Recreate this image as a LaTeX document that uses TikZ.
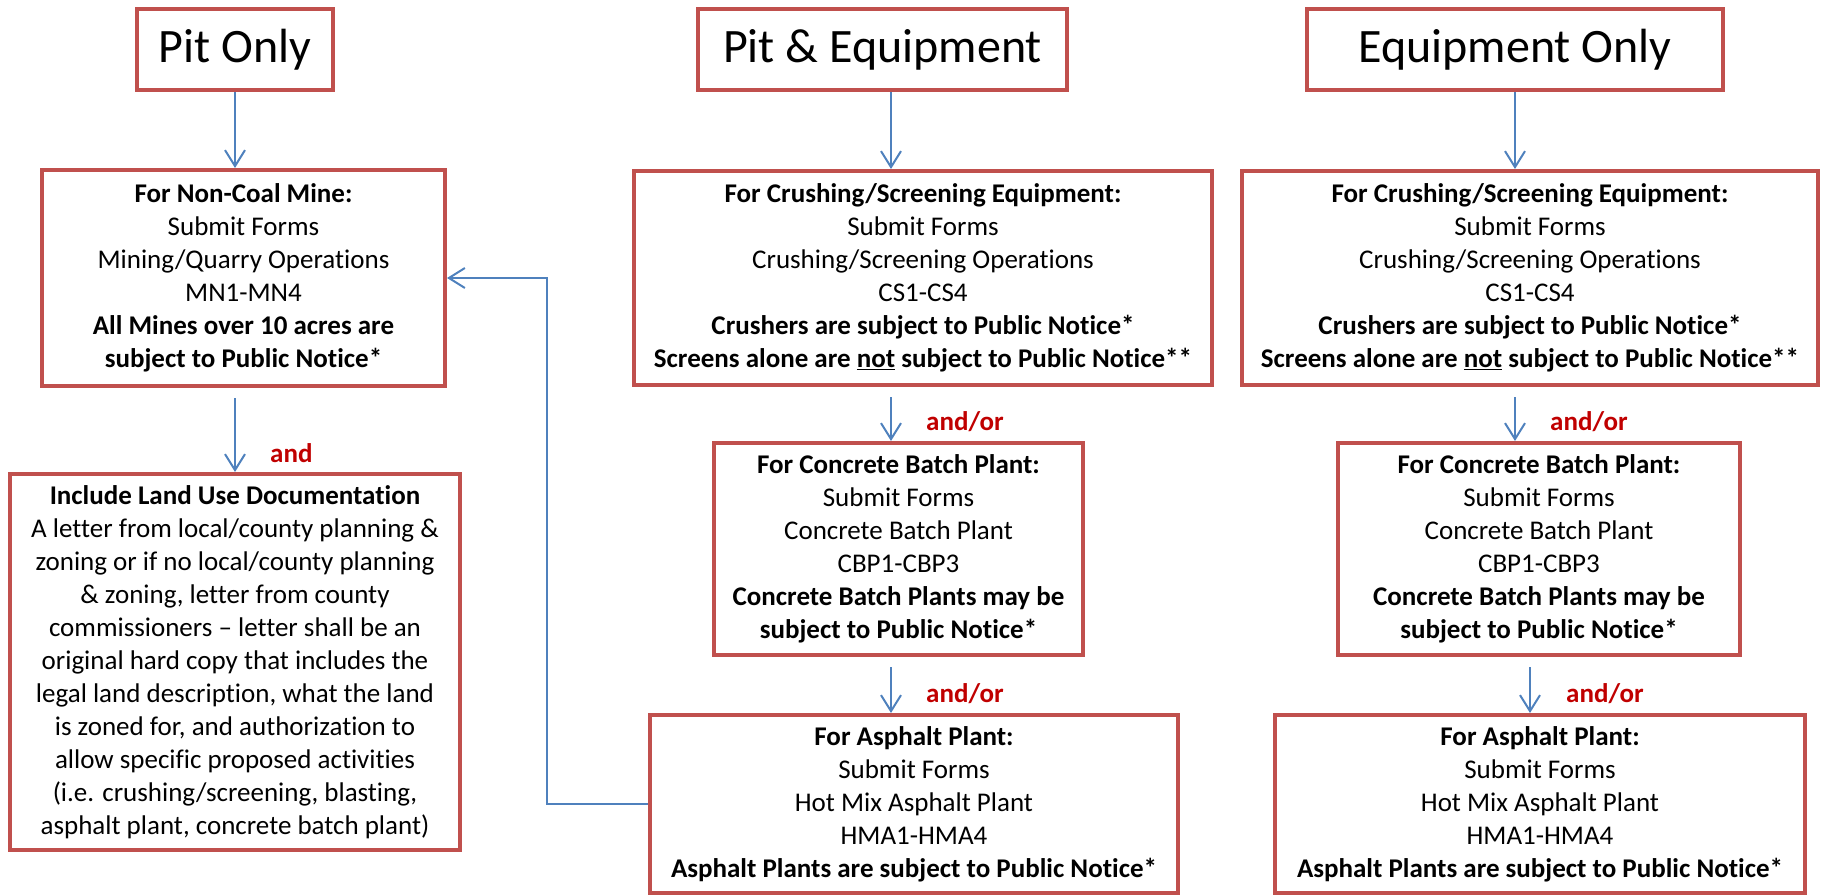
\documentclass[tikz,border=0pt]{standalone}
\usepackage{fontspec}
\setmainfont{Carlito}[Ligatures={NoCommon}]
\usepackage{tikz}
\usetikzlibrary{positioning, calc, arrows.meta}
\definecolor{boxred}{RGB}{192,80,77}
\definecolor{flowblue}{RGB}{79,129,189}
\definecolor{andred}{RGB}{192,0,0}

\begin{document}
\begin{tikzpicture}
    [x=1pt, y=-1pt,
    titlenode/.style={rectangle, draw=boxred, line width=4pt, inner sep=0pt, minimum height=81pt, font=\fontsize{48}{56}\selectfont},
    formnode/.style={rectangle, draw=boxred, line width=4pt, inner sep=0pt, align=center, font=\fontsize{27}{33}\selectfont},
    andnode/.style={anchor=base west, inner sep=0pt, text=andred, font=\fontsize{27}{33}\selectfont\bfseries},
    flow/.style={draw=flowblue, line width=2pt, -{Straight Barb[length=16pt, width=20pt]}},]

    \useasboundingbox (0,0) rectangle (1825,896);

    %Nodes
    \node[titlenode, minimum width=196pt](PitOnly) at (235,49.5){Pit Only};
    \node[titlenode, minimum width=369pt](PitEquip) at (882.5,49.5){Pit \& Equipment};
    \node[titlenode, minimum width=416pt](EquipOnly) at (1515,49.5){Equipment Only};

    \node[formnode, minimum width=403pt, minimum height=216pt](NonCoal) at (243.5,278){\textbf{For Non-Coal Mine:}\\Submit Forms\\Mining/Quarry Operations\\MN1-MN4\\\textbf{All Mines over 10 acres are}\\\textbf{subject to Public Notice*}};
    \node[formnode, minimum width=450pt, minimum height=376pt](LandUse) at (235,662){\textbf{Include Land Use Documentation}\\A letter from local/county planning \&\\zoning or if no local/county planning\\\& zoning, letter from county\\commissioners – letter shall be an\\original hard copy that includes the\\legal land description, what the land\\is zoned for, and authorization to\\allow specific proposed activities\\(i.e. crushing/screening, blasting,\\asphalt plant, concrete batch plant)};

    \node[formnode, minimum width=578pt, minimum height=214pt](CrushA) at (923,278){\textbf{For Crushing/Screening Equipment:}\\Submit Forms\\Crushing/Screening Operations\\CS1-CS4\\\textbf{Crushers are subject to Public Notice*}\\\textbf{Screens alone are \underline{not} subject to Public Notice**}};
    \node[formnode, minimum width=369pt, minimum height=212pt](ConcA) at (898.5,549){\textbf{For Concrete Batch Plant:}\\Submit Forms\\Concrete Batch Plant\\CBP1-CBP3\\\textbf{Concrete Batch Plants may be}\\\textbf{subject to Public Notice*}};
    \node[formnode, minimum width=528pt, minimum height=178pt](AsphA) at (914,804){\textbf{For Asphalt Plant:}\\Submit Forms\\Hot Mix Asphalt Plant\\HMA1-HMA4\\\textbf{Asphalt Plants are subject to Public Notice*}};

    \node[formnode, minimum width=576pt, minimum height=214pt](CrushB) at (1530,278){\textbf{For Crushing/Screening Equipment:}\\Submit Forms\\Crushing/Screening Operations\\CS1-CS4\\\textbf{Crushers are subject to Public Notice*}\\\textbf{Screens alone are \underline{not} subject to Public Notice**}};
    \node[formnode, minimum width=402pt, minimum height=212pt](ConcB) at (1539,549){\textbf{For Concrete Batch Plant:}\\Submit Forms\\Concrete Batch Plant\\CBP1-CBP3\\\textbf{Concrete Batch Plants may be}\\\textbf{subject to Public Notice*}};
    \node[formnode, minimum width=530pt, minimum height=178pt](AsphB) at (1540,804){\textbf{For Asphalt Plant:}\\Submit Forms\\Hot Mix Asphalt Plant\\HMA1-HMA4\\\textbf{Asphalt Plants are subject to Public Notice*}};

    \node[andnode](andL) at (270,462){and};
    \node[andnode](andA1) at (926,430){and/or};
    \node[andnode](andA2) at (926,702){and/or};
    \node[andnode](andB1) at (1550,430){and/or};
    \node[andnode](andB2) at (1566,702){and/or};

    \coordinate(midline) at (891,0);
    \coordinate(turn) at (547,0);

    %Lines
    \draw[flow](PitOnly.south)--(PitOnly.south |- NonCoal.north);
    \draw[flow]($(NonCoal.south -| LandUse.north)+(0,10)$)--(LandUse.north);

    \draw[flow](PitEquip.south -| midline)--(CrushA.north -| midline);
    \draw[flow]($(CrushA.south -| midline)+(0,10)$)--(ConcA.north -| midline);
    \draw[flow]($(ConcA.south -| midline)+(0,10)$)--(AsphA.north -| midline);

    \draw[flow](EquipOnly.south)--(EquipOnly.south |- CrushB.north);
    \draw[flow]($(CrushB.south -| EquipOnly.south)+(0,10)$)--(ConcB.north -| EquipOnly.south);
    \draw[flow]($(ConcB.south -| CrushB.south)+(0,10)$)--(CrushB.south |- AsphB.north);

    \draw[flow](AsphA.west)--(AsphA.west -| turn)|-(NonCoal.east);
\end{tikzpicture}
\end{document}
